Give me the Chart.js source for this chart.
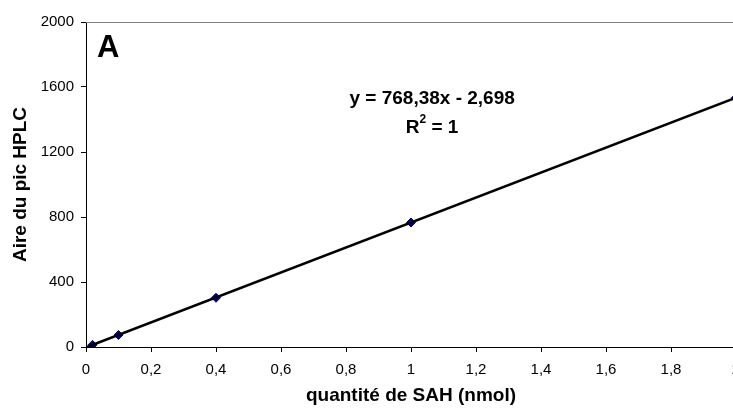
<!DOCTYPE html>
<html>
<head>
<meta charset="utf-8">
<script src="https://cdn.jsdelivr.net/npm/chart.js@4"></script>
<style>
  html, body { margin: 0; padding: 0; background: #fff; overflow: hidden; }
</style>
</head>
<body>
<canvas id="grafik" width="760" height="410"></canvas>
<script>
// donnees
const quantiteSAH = [0.02, 0.1, 0.4, 1, 2];
const airePic     = [13, 74, 303, 766, 1534];
const pente = 768.38;
const ordonnee = -2.698;
const bornesDroite = [0, 2];
const ticksY = [0, 400, 800, 1200, 1600, 2000];
const equation = 'y = 768,38x - 2,698';
const lettre = 'A';

const police = '"Liberation Sans", Arial, sans-serif';

const pointsMesure = quantiteSAH.map((x, i) => ({ x: x, y: airePic[i] }));
const droite = bornesDroite.map(x => ({ x: x, y: pente * x + ordonnee }));

const texteCourbe = {
    id: 'texteCourbe',
    afterDraw(chart) {
        const ctx = chart.ctx;
        const a = chart.chartArea;
        const sx = chart.scales.x, sy = chart.scales.y;
        ctx.save();
        // ligne grise du haut
        ctx.strokeStyle = '#808080';
        ctx.lineWidth = 1;
        ctx.beginPath();
        ctx.moveTo(a.left, a.top + 0.5);
        ctx.lineTo(a.right, a.top + 0.5);
        ctx.stroke();

        ctx.fillStyle = '#000';
        ctx.textBaseline = 'middle';
        ctx.textAlign = 'left';
        ctx.font = 'bold 31px ' + police;
        ctx.fillText(lettre, a.left + 11, a.top + 26);

        ctx.textAlign = 'center';
        ctx.font = 'bold 19px ' + police;
        const cx = sx.getPixelForValue(1.065);
        ctx.fillText(equation, cx, sy.getPixelForValue(1525));
        const ry = sy.getPixelForValue(1350);
        const w1 = ctx.measureText('R').width;
        const w2 = ctx.measureText(' = 1').width;
        ctx.font = 'bold 12px ' + police;
        const w3 = ctx.measureText('2').width;
        const x0 = cx - (w1 + w2 + w3) / 2;
        ctx.textAlign = 'left';
        ctx.fillText('2', x0 + w1, ry - 8);
        ctx.font = 'bold 19px ' + police;
        ctx.fillText('R', x0, ry);
        ctx.fillText(' = 1', x0 + w1 + w3, ry);
        ctx.restore();
    }
};

new Chart(document.getElementById('grafik'), {
    type: 'scatter',
    data: {
        datasets: [{
            label: 'droite',
            type: 'line',
            data: droite,
            borderColor: '#000',
            borderWidth: 2.5,
            pointRadius: 0,
            fill: false,
            order: 1
        }, {
            label: 'mesures',
            data: pointsMesure,
            pointStyle: 'rectRot',
            pointRadius: 4.5,
            backgroundColor: '#000080',
            borderColor: '#000080',
            order: 2
        }]
    },
    options: {
        responsive: false,
        animation: false,
        layout: { padding: { left: 0, right: 24, top: 22, bottom: 0 } },
        plugins: { legend: { display: false }, tooltip: { enabled: false } },
        scales: {
            x: {
                type: 'linear',
                min: 0, max: 2,
                afterFit(s) { s.height = 63; },
                border: { color: '#000', width: 1 },
                grid: { drawOnChartArea: false, color: '#000', tickLength: 5 },
                ticks: {
                    stepSize: 0.2,
                    padding: 9,
                    color: '#000',
                    font: { family: police, size: 15 },
                    callback: v => (Math.round(v * 10) / 10).toString().replace('.', ',')
                },
                title: {
                    display: true,
                    text: 'quantité de SAH (nmol)',
                    color: '#000',
                    font: { family: police, size: 19, weight: 'bold' },
                    padding: { top: 4, bottom: 3 }
                }
            },
            y: {
                min: 0, max: 2000,
                afterFit(s) { s.width = 86; },
                afterBuildTicks(s) { s.ticks = ticksY.map(v => ({ value: v })); },
                border: { color: '#000', width: 1 },
                grid: { drawOnChartArea: false, color: '#000', tickLength: 5 },
                ticks: {
                    padding: 7,
                    color: '#000',
                    font: { family: police, size: 15 },
                    callback: v => String(v)
                },
                title: {
                    display: true,
                    text: 'Aire du pic HPLC',
                    color: '#000',
                    font: { family: police, size: 19, weight: 'bold' },
                    padding: { top: 9, bottom: 0 }
                }
            }
        }
    },
    plugins: [texteCourbe]
});
</script>
</body>
</html>
